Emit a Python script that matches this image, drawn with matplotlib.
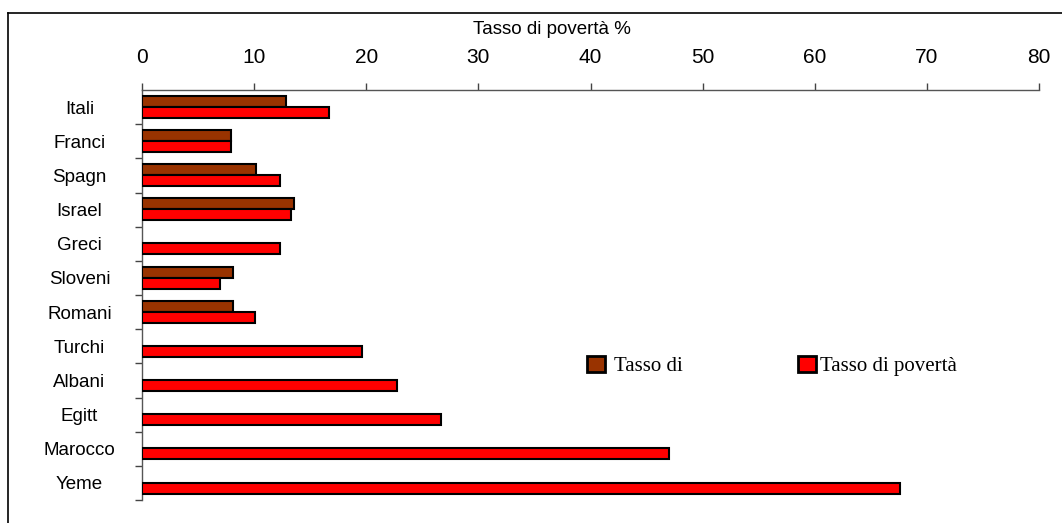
#!/usr/bin/env python
# coding: utf-8

import matplotlib
matplotlib.use('Agg')
import matplotlib.pyplot as plt
import numpy as np
from matplotlib.lines import Line2D
from matplotlib.patches import Patch

# data
countries = ['Itali', 'Franci', 'Spagn', 'Israel', 'Greci', 'Sloveni',
             'Romani', 'Turchi', 'Albani', 'Egitt', 'Marocco', 'Yeme']
tasso_di = [12.8, 7.9, 10.2, 13.6, None, 8.1, 8.1, None, None, None, None, None]
tasso_poverta = [16.7, 7.9, 12.3, 13.3, 12.3, 7.0, 10.1, 19.6, 22.7, 26.7, 47.0, 67.6]
x_ticks = [0, 10, 20, 30, 40, 50, 60, 70, 80]

BROWN = '#993300'
RED = '#FF0000'

plt.rcParams['font.family'] = ['Liberation Sans', 'DejaVu Sans']

W, H = 1062, 523
fig = plt.figure(figsize=(W / 100, H / 100), dpi=100)
ax = fig.add_axes([142 / W, 1 - 500 / H, (1039 - 142) / W, (500 - 90) / H])

pos = np.arange(len(countries))
bh = 0.32
brown_pos = [p for p, v in zip(pos, tasso_di) if v is not None]
brown_vals = [v for v in tasso_di if v is not None]
ax.barh(np.array(brown_pos) - 0.17, brown_vals, height=bh, color=BROWN,
        edgecolor='black', linewidth=1.5, zorder=3)
ax.barh(pos + 0.15, tasso_poverta, height=bh, color=RED,
        edgecolor='black', linewidth=1.5, zorder=3)

ax.set_xlim(0, 80)
ax.set_ylim(len(countries) - 0.5, -0.5)

# x axis on top
ax.xaxis.tick_top()
ax.set_xticks(x_ticks)
ax.tick_params(axis='x', direction='out', length=5, width=1, color='#444444',
               labelsize=15, pad=11.5)

# y ticks at category boundaries, labels centred
ax.set_yticks(pos)
ax.set_yticklabels(countries, ha='center', fontsize=13.5)
ax.tick_params(axis='y', length=0, pad=45)
ax.set_yticks(np.arange(len(countries)) + 0.5, minor=True)
ax.tick_params(axis='y', which='minor', direction='out', length=5, width=1,
               color='#444444')

for side in ['right', 'bottom']:
    ax.spines[side].set_visible(False)
for side in ['top', 'left']:
    ax.spines[side].set_color('#555555')
    ax.spines[side].set_linewidth(1)

ax.text((552 - 142) / (1039 - 142), 1 + (90 - 30) / (500 - 90), 'Tasso di povertà %',
        transform=ax.transAxes, ha='center', va='center', fontsize=13.5)

# two legend entries placed separately, as in the reference
legend_font = {'family': 'Liberation Serif', 'size': 15}
entries = [(BROWN, 'Tasso di', 587, 0.45), (RED, 'Tasso di povertà', 798, 0.22)]
for color, label, x_px, pad in entries:
    fig.legend([Patch(facecolor=color, edgecolor='black', linewidth=2)], [label],
               frameon=False, loc='center left',
               bbox_to_anchor=(x_px / W, 1 - 366 / H),
               borderaxespad=0, borderpad=0, handlelength=0.85, handleheight=0.85,
               handletextpad=pad, prop=legend_font)

# outer frame (right and bottom edges fall outside the picture)
fig.add_artist(Line2D([8 / W, 1.0], [1 - 13 / H, 1 - 13 / H],
                      transform=fig.transFigure, color='black', linewidth=1.2))
fig.add_artist(Line2D([8 / W, 8 / W], [0, 1 - 13 / H],
                      transform=fig.transFigure, color='black', linewidth=1.2))

fig.savefig('out.png', dpi=100)
